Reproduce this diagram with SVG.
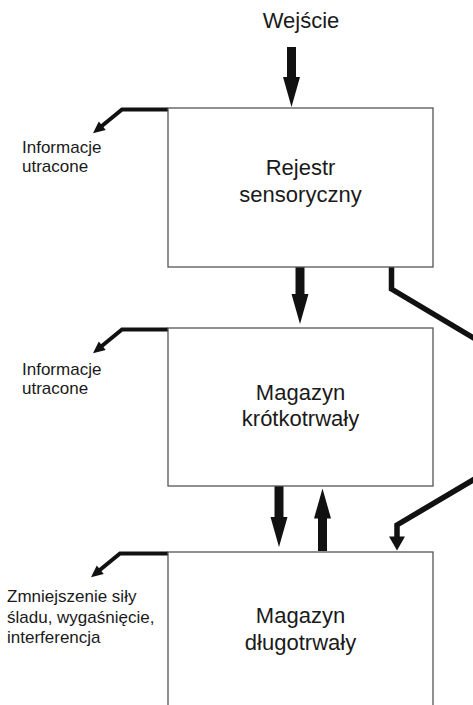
<svg xmlns="http://www.w3.org/2000/svg" width="473" height="705" viewBox="0 0 473 705">
<style>
  .box { fill: #fff; stroke: #555; stroke-width: 1.3; }
  .title { font-family: "Liberation Sans", Arial, sans-serif; font-size: 22px; fill: #1a1a1a; text-anchor: middle; }
  .lbl { font-family: "Liberation Sans", Arial, sans-serif; font-size: 17px; fill: #1a1a1a; }
  .big { fill: none; stroke: #111; stroke-width: 9; marker-end: url(#bigHead); }
  .route { fill: none; stroke: #111; stroke-width: 5.5; stroke-linejoin: miter; }
  .lost { fill: none; stroke: #111; stroke-width: 4; stroke-linejoin: miter; marker-end: url(#smallHead); }
</style>
<defs>
  <marker id="bigHead" markerUnits="userSpaceOnUse" markerWidth="32" markerHeight="20" viewBox="0 -10 32 20" refX="1" refY="0" orient="auto" overflow="visible">
    <path d="M0,-8.5 L30,0 L0,8.5 Z" fill="#111"/>
  </marker>
  <marker id="midHead" markerUnits="userSpaceOnUse" markerWidth="16" markerHeight="18" viewBox="0 -9 16 18" refX="1" refY="0" orient="auto" overflow="visible">
    <path d="M0,-8 L14,0 L0,8 Z" fill="#111"/>
  </marker>
  <marker id="smallHead" markerUnits="userSpaceOnUse" markerWidth="14" markerHeight="12" viewBox="0 -6 14 12" refX="1" refY="0" orient="auto" overflow="visible">
    <path d="M0,-5.5 L12,0 L0,5.5 Z" fill="#111"/>
  </marker>
</defs>

<text class="title" x="301" y="28">Wejście</text>

<g id="connectors">
  <!-- input -->
  <line class="big" x1="291.5" y1="47" x2="291.5" y2="78"/>
  <!-- register -> short-term -->
  <line class="big" x1="300" y1="266" x2="300" y2="295"/>
  <!-- short-term -> long-term -->
  <line class="big" x1="279" y1="486" x2="279" y2="518"/>
  <!-- long-term -> short-term -->
  <line class="big" x1="322.5" y1="551" x2="322.5" y2="517.5"/>
  <!-- register -> long-term (bypass, leaves the picture on the right) -->
  <path class="route" d="M391.5,266 V289 L477,340"/>
  <path class="route" d="M477,477.6 L397,525 V537.5" marker-end="url(#midHead)"/>
  <!-- information lost -->
  <path class="lost" d="M168,109.5 H122 L101.5,126.3"/>
  <path class="lost" d="M168,329.5 H122 L101.5,346.3"/>
  <path class="lost" d="M168,553.5 H120 L99.5,570.3"/>
</g>

<g id="rejestr">
  <rect class="box" x="168" y="108" width="265" height="159"/>
  <text class="title" x="300.5" y="175">Rejestr</text>
  <text class="title" x="300.5" y="202">sensoryczny</text>
</g>
<g id="lost1">
  <text class="lbl" x="22" y="153">Informacje</text>
  <text class="lbl" x="22" y="172">utracone</text>
</g>

<g id="krotkotrwaly">
  <rect class="box" x="168" y="328" width="265" height="158"/>
  <text class="title" x="300.5" y="400">Magazyn</text>
  <text class="title" x="300.5" y="426">krótkotrwały</text>
</g>
<g id="lost2">
  <text class="lbl" x="22" y="375">Informacje</text>
  <text class="lbl" x="22" y="394">utracone</text>
</g>

<g id="dlugotrwaly">
  <rect class="box" x="168" y="552" width="265" height="160"/>
  <text class="title" x="300.5" y="623">Magazyn</text>
  <text class="title" x="300.5" y="650">długotrwały</text>
</g>
<g id="lost3">
  <text class="lbl" x="7" y="602">Zmniejszenie siły</text>
  <text class="lbl" x="7" y="623">śladu, wygaśnięcie,</text>
  <text class="lbl" x="7" y="643">interferencja</text>
</g>
</svg>
